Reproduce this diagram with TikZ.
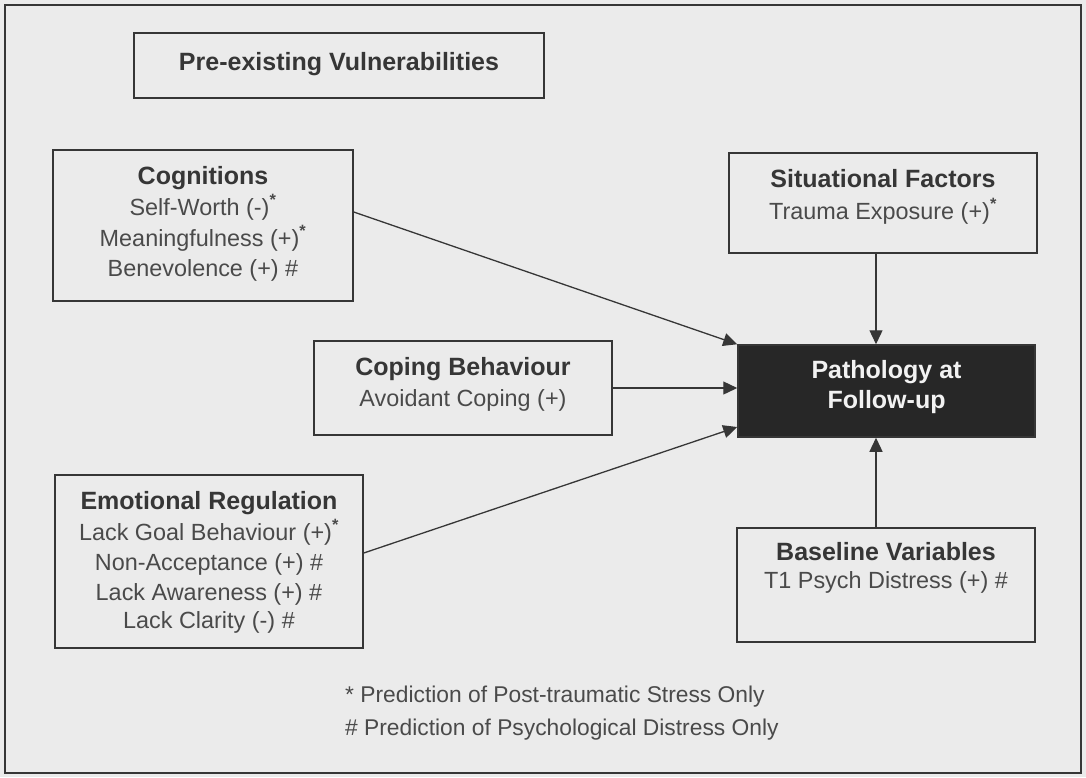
\documentclass[tikz,border=0pt]{standalone}
\usepackage{fontspec}
\setmainfont{Liberation Sans}
\usetikzlibrary{arrows.meta}
\definecolor{paper}{HTML}{EBEBEB}
\definecolor{ink}{HTML}{363636}
\definecolor{inksoft}{HTML}{4A4A4A}
\definecolor{darkfill}{HTML}{272727}
\definecolor{lighttext}{HTML}{F2F2F2}
\newcommand{\supstar}{\textsuperscript{\bfseries *}}
\begin{document}
\begin{tikzpicture}[x=1pt,y=-1pt,
  box/.style={draw=ink, line width=1.5pt, rectangle, inner sep=0pt},
  head/.style={anchor=base, text=ink, font=\fontsize{25}{30}\selectfont\bfseries, inner sep=0pt},
  item/.style={anchor=base, text=inksoft, font=\fontsize{23.4}{28}\selectfont, inner sep=0pt},
  note/.style={anchor=base west, text=inksoft, font=\fontsize{22.8}{28}\selectfont, inner sep=0pt},
  link/.style={draw=ink, line width=1.3pt, -{Triangle[length=14pt,width=13pt]}},
]
% page and outer frame
\fill[paper] (0,0) rectangle (1086,777);
\useasboundingbox (0,0) rectangle (1086,777);
\draw[ink, line width=2pt] (5,5) rectangle (1081,773);

% boxes
\node[box, minimum width=410pt, minimum height=65pt]  (pre)  at (339,65.5)  {};
\node[box, minimum width=300pt, minimum height=151pt] (cog)  at (203,225.5) {};
\node[box, minimum width=308pt, minimum height=100pt] (sit)  at (883,203)   {};
\node[box, minimum width=298pt, minimum height=94pt]  (cop)  at (463,388)   {};
\node[box, fill=darkfill, minimum width=297pt, minimum height=92pt] (path) at (886.5,391) {};
\node[box, minimum width=308pt, minimum height=173pt] (emo)  at (209,561.5) {};
\node[box, minimum width=298pt, minimum height=114pt] (base) at (886,585)   {};

% box texts
\node[head] (preT) at (339,70) {Pre-existing Vulnerabilities};

\node[head] (cogT)  at (203,184) {Cognitions};
\node[item] (cog1)  at (203,215) {Self-Worth (-)\supstar};
\node[item] (cog2)  at (203,246) {Meaningfulness (+)\supstar};
\node[item] (cog3)  at (203,276) {Benevolence (+) \#};

\node[head] (sitT)  at (883,187) {Situational Factors};
\node[item] (sit1)  at (883,219) {Trauma Exposure (+)\supstar};

\node[head] (copT)  at (463,375) {Coping Behaviour};
\node[item] (cop1)  at (463,406) {Avoidant Coping (+)};

\node[head, text=lighttext] (pathT1) at (886.5,378) {Pathology at};
\node[head, text=lighttext] (pathT2) at (886.5,408) {Follow-up};

\node[head] (emoT)  at (209,509) {Emotional Regulation};
\node[item] (emo1)  at (209,540) {Lack Goal Behaviour (+)\supstar};
\node[item] (emo2)  at (209,570) {Non-Acceptance (+) \#};
\node[item] (emo3)  at (209,600) {Lack Awareness (+) \#};
\node[item] (emo4)  at (209,628) {Lack Clarity (-) \#};

\node[head] (baseT) at (886,560) {Baseline Variables};
\node[item] (base1) at (886,588) {T1 Psych Distress (+) \#};

% legend
\node[note] (noteA) at (345,702) {* Prediction of Post-traumatic Stress Only};
\node[note] (noteB) at (345,735) {\# Prediction of Psychological Distress Only};

% connectors
\draw[link] ([yshift=13.5pt]cog.east) -- (path.north west);
\draw[link] (cop.east) -- (cop.east -| path.west);
\draw[link] ([yshift=8.5pt]emo.east) -- ([yshift=-36pt]path.west);
\draw[link] ([xshift=-7pt]sit.south) -- ([xshift=-10.5pt]path.north);
\draw[link] ([xshift=-10pt]base.north) -- ([xshift=-10.5pt]path.south);
\end{tikzpicture}
\end{document}
